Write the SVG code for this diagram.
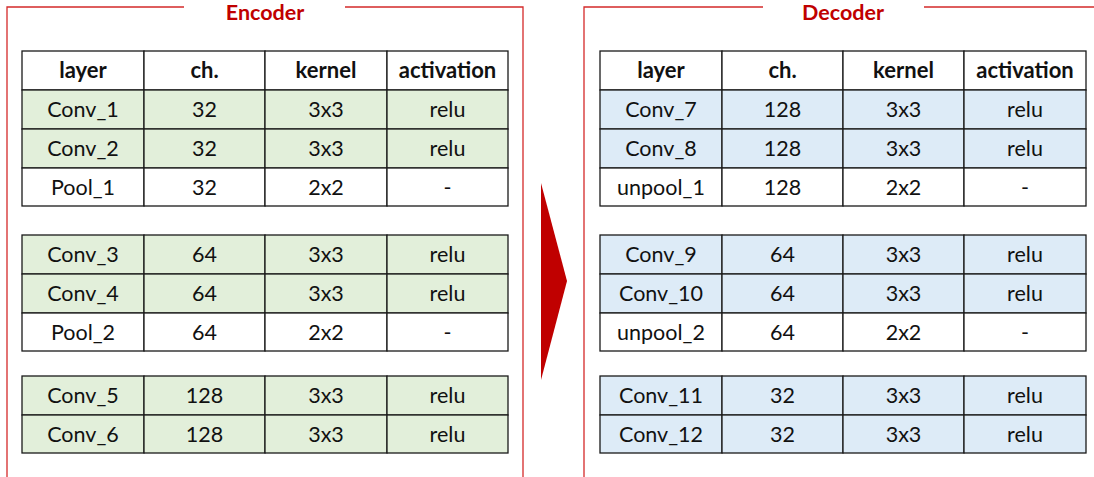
<svg xmlns="http://www.w3.org/2000/svg" width="1094" height="477" viewBox="0 0 1094 477">
  <style>
    .frame { fill: none; stroke: #d42a2a; stroke-width: 1.3; }
    .title { font-family: Lato, "Liberation Sans", sans-serif; font-weight: bold; font-size: 21.5px; fill: #c00000; text-anchor: middle; }
    .cell { stroke: #1a1a1a; stroke-width: 1.3; }
    .hdr { fill: #ffffff; }
    .enc { fill: #e2efda; }
    .dec { fill: #ddebf7; }
    .plain { fill: #ffffff; }
    .t { font-family: Lato, "Liberation Sans", sans-serif; font-size: 21.5px; fill: #111; text-anchor: middle; dominant-baseline: central; }
    .th { font-weight: bold; font-size: 22px; }
  </style>

  <rect width="1094" height="477" fill="#ffffff"/>

  <!-- Encoder frame -->
  <g id="encoder-frame">
    <path class="frame" d="M184,7 H7 V477 M345,7 H523 V477"/>
    <text class="title" x="265" y="20">Encoder</text>
  </g>

  <!-- Decoder frame -->
  <g id="decoder-frame">
    <path class="frame" d="M763,7 H584 V477 M924,7 H1094"/>
    <text class="title" x="843" y="20">Decoder</text>
  </g>

  <!-- Encoder table -->
  <g id="encoder-table">
    <g id="enc-header">
      <rect class="cell hdr" x="22" y="51" width="122" height="39"/>
      <rect class="cell hdr" x="144" y="51" width="121" height="39"/>
      <rect class="cell hdr" x="265" y="51" width="122" height="39"/>
      <rect class="cell hdr" x="387" y="51" width="121" height="39"/>
      <text class="t th" x="83" y="69.5">layer</text>
      <text class="t th" x="204.5" y="69.5">ch.</text>
      <text class="t th" x="326" y="69.5">kernel</text>
      <text class="t th" x="447.5" y="69.5">activation</text>
    </g>
    <g id="enc-conv1">
      <rect class="cell enc" x="22" y="90" width="122" height="39"/>
      <rect class="cell enc" x="144" y="90" width="121" height="39"/>
      <rect class="cell enc" x="265" y="90" width="122" height="39"/>
      <rect class="cell enc" x="387" y="90" width="121" height="39"/>
      <text class="t" x="83" y="108.5">Conv_1</text>
      <text class="t" x="204.5" y="108.5">32</text>
      <text class="t" x="326" y="108.5">3x3</text>
      <text class="t" x="447.5" y="108.5">relu</text>
    </g>
    <g id="enc-conv2">
      <rect class="cell enc" x="22" y="129" width="122" height="39"/>
      <rect class="cell enc" x="144" y="129" width="121" height="39"/>
      <rect class="cell enc" x="265" y="129" width="122" height="39"/>
      <rect class="cell enc" x="387" y="129" width="121" height="39"/>
      <text class="t" x="83" y="147.5">Conv_2</text>
      <text class="t" x="204.5" y="147.5">32</text>
      <text class="t" x="326" y="147.5">3x3</text>
      <text class="t" x="447.5" y="147.5">relu</text>
    </g>
    <g id="enc-pool1">
      <rect class="cell plain" x="22" y="168" width="122" height="38"/>
      <rect class="cell plain" x="144" y="168" width="121" height="38"/>
      <rect class="cell plain" x="265" y="168" width="122" height="38"/>
      <rect class="cell plain" x="387" y="168" width="121" height="38"/>
      <text class="t" x="83" y="186.5">Pool_1</text>
      <text class="t" x="204.5" y="186.5">32</text>
      <text class="t" x="326" y="186.5">2x2</text>
      <text class="t" x="447.5" y="186.5">-</text>
    </g>
    <g id="enc-conv3">
      <rect class="cell enc" x="22" y="235" width="122" height="39"/>
      <rect class="cell enc" x="144" y="235" width="121" height="39"/>
      <rect class="cell enc" x="265" y="235" width="122" height="39"/>
      <rect class="cell enc" x="387" y="235" width="121" height="39"/>
      <text class="t" x="83" y="253.5">Conv_3</text>
      <text class="t" x="204.5" y="253.5">64</text>
      <text class="t" x="326" y="253.5">3x3</text>
      <text class="t" x="447.5" y="253.5">relu</text>
    </g>
    <g id="enc-conv4">
      <rect class="cell enc" x="22" y="274" width="122" height="39"/>
      <rect class="cell enc" x="144" y="274" width="121" height="39"/>
      <rect class="cell enc" x="265" y="274" width="122" height="39"/>
      <rect class="cell enc" x="387" y="274" width="121" height="39"/>
      <text class="t" x="83" y="292.5">Conv_4</text>
      <text class="t" x="204.5" y="292.5">64</text>
      <text class="t" x="326" y="292.5">3x3</text>
      <text class="t" x="447.5" y="292.5">relu</text>
    </g>
    <g id="enc-pool2">
      <rect class="cell plain" x="22" y="313" width="122" height="38"/>
      <rect class="cell plain" x="144" y="313" width="121" height="38"/>
      <rect class="cell plain" x="265" y="313" width="122" height="38"/>
      <rect class="cell plain" x="387" y="313" width="121" height="38"/>
      <text class="t" x="83" y="331.5">Pool_2</text>
      <text class="t" x="204.5" y="331.5">64</text>
      <text class="t" x="326" y="331.5">2x2</text>
      <text class="t" x="447.5" y="331.5">-</text>
    </g>
    <g id="enc-conv5">
      <rect class="cell enc" x="22" y="376" width="122" height="39"/>
      <rect class="cell enc" x="144" y="376" width="121" height="39"/>
      <rect class="cell enc" x="265" y="376" width="122" height="39"/>
      <rect class="cell enc" x="387" y="376" width="121" height="39"/>
      <text class="t" x="83" y="394.5">Conv_5</text>
      <text class="t" x="204.5" y="394.5">128</text>
      <text class="t" x="326" y="394.5">3x3</text>
      <text class="t" x="447.5" y="394.5">relu</text>
    </g>
    <g id="enc-conv6">
      <rect class="cell enc" x="22" y="415" width="122" height="38"/>
      <rect class="cell enc" x="144" y="415" width="121" height="38"/>
      <rect class="cell enc" x="265" y="415" width="122" height="38"/>
      <rect class="cell enc" x="387" y="415" width="121" height="38"/>
      <text class="t" x="83" y="433.5">Conv_6</text>
      <text class="t" x="204.5" y="433.5">128</text>
      <text class="t" x="326" y="433.5">3x3</text>
      <text class="t" x="447.5" y="433.5">relu</text>
    </g>
  </g>

  <!-- Connectors -->
  <g id="connectors">
    <polygon points="541,183 567,281 541,380" fill="#c00000"/>
  </g>

  <!-- Decoder table -->
  <g id="decoder-table">
    <g id="dec-header">
      <rect class="cell hdr" x="600" y="51" width="122" height="39"/>
      <rect class="cell hdr" x="722" y="51" width="121" height="39"/>
      <rect class="cell hdr" x="843" y="51" width="121" height="39"/>
      <rect class="cell hdr" x="964" y="51" width="122" height="39"/>
      <text class="t th" x="661" y="69.5">layer</text>
      <text class="t th" x="782.5" y="69.5">ch.</text>
      <text class="t th" x="903.5" y="69.5">kernel</text>
      <text class="t th" x="1025" y="69.5">activation</text>
    </g>
    <g id="dec-conv7">
      <rect class="cell dec" x="600" y="90" width="122" height="39"/>
      <rect class="cell dec" x="722" y="90" width="121" height="39"/>
      <rect class="cell dec" x="843" y="90" width="121" height="39"/>
      <rect class="cell dec" x="964" y="90" width="122" height="39"/>
      <text class="t" x="661" y="108.5">Conv_7</text>
      <text class="t" x="782.5" y="108.5">128</text>
      <text class="t" x="903.5" y="108.5">3x3</text>
      <text class="t" x="1025" y="108.5">relu</text>
    </g>
    <g id="dec-conv8">
      <rect class="cell dec" x="600" y="129" width="122" height="39"/>
      <rect class="cell dec" x="722" y="129" width="121" height="39"/>
      <rect class="cell dec" x="843" y="129" width="121" height="39"/>
      <rect class="cell dec" x="964" y="129" width="122" height="39"/>
      <text class="t" x="661" y="147.5">Conv_8</text>
      <text class="t" x="782.5" y="147.5">128</text>
      <text class="t" x="903.5" y="147.5">3x3</text>
      <text class="t" x="1025" y="147.5">relu</text>
    </g>
    <g id="dec-unpool1">
      <rect class="cell plain" x="600" y="168" width="122" height="38"/>
      <rect class="cell plain" x="722" y="168" width="121" height="38"/>
      <rect class="cell plain" x="843" y="168" width="121" height="38"/>
      <rect class="cell plain" x="964" y="168" width="122" height="38"/>
      <text class="t" x="661" y="186.5">unpool_1</text>
      <text class="t" x="782.5" y="186.5">128</text>
      <text class="t" x="903.5" y="186.5">2x2</text>
      <text class="t" x="1025" y="186.5">-</text>
    </g>
    <g id="dec-conv9">
      <rect class="cell dec" x="600" y="235" width="122" height="39"/>
      <rect class="cell dec" x="722" y="235" width="121" height="39"/>
      <rect class="cell dec" x="843" y="235" width="121" height="39"/>
      <rect class="cell dec" x="964" y="235" width="122" height="39"/>
      <text class="t" x="661" y="253.5">Conv_9</text>
      <text class="t" x="782.5" y="253.5">64</text>
      <text class="t" x="903.5" y="253.5">3x3</text>
      <text class="t" x="1025" y="253.5">relu</text>
    </g>
    <g id="dec-conv10">
      <rect class="cell dec" x="600" y="274" width="122" height="39"/>
      <rect class="cell dec" x="722" y="274" width="121" height="39"/>
      <rect class="cell dec" x="843" y="274" width="121" height="39"/>
      <rect class="cell dec" x="964" y="274" width="122" height="39"/>
      <text class="t" x="661" y="292.5">Conv_10</text>
      <text class="t" x="782.5" y="292.5">64</text>
      <text class="t" x="903.5" y="292.5">3x3</text>
      <text class="t" x="1025" y="292.5">relu</text>
    </g>
    <g id="dec-unpool2">
      <rect class="cell plain" x="600" y="313" width="122" height="38"/>
      <rect class="cell plain" x="722" y="313" width="121" height="38"/>
      <rect class="cell plain" x="843" y="313" width="121" height="38"/>
      <rect class="cell plain" x="964" y="313" width="122" height="38"/>
      <text class="t" x="661" y="331.5">unpool_2</text>
      <text class="t" x="782.5" y="331.5">64</text>
      <text class="t" x="903.5" y="331.5">2x2</text>
      <text class="t" x="1025" y="331.5">-</text>
    </g>
    <g id="dec-conv11">
      <rect class="cell dec" x="600" y="376" width="122" height="39"/>
      <rect class="cell dec" x="722" y="376" width="121" height="39"/>
      <rect class="cell dec" x="843" y="376" width="121" height="39"/>
      <rect class="cell dec" x="964" y="376" width="122" height="39"/>
      <text class="t" x="661" y="394.5">Conv_11</text>
      <text class="t" x="782.5" y="394.5">32</text>
      <text class="t" x="903.5" y="394.5">3x3</text>
      <text class="t" x="1025" y="394.5">relu</text>
    </g>
    <g id="dec-conv12">
      <rect class="cell dec" x="600" y="415" width="122" height="38"/>
      <rect class="cell dec" x="722" y="415" width="121" height="38"/>
      <rect class="cell dec" x="843" y="415" width="121" height="38"/>
      <rect class="cell dec" x="964" y="415" width="122" height="38"/>
      <text class="t" x="661" y="433.5">Conv_12</text>
      <text class="t" x="782.5" y="433.5">32</text>
      <text class="t" x="903.5" y="433.5">3x3</text>
      <text class="t" x="1025" y="433.5">relu</text>
    </g>
  </g>
</svg>
